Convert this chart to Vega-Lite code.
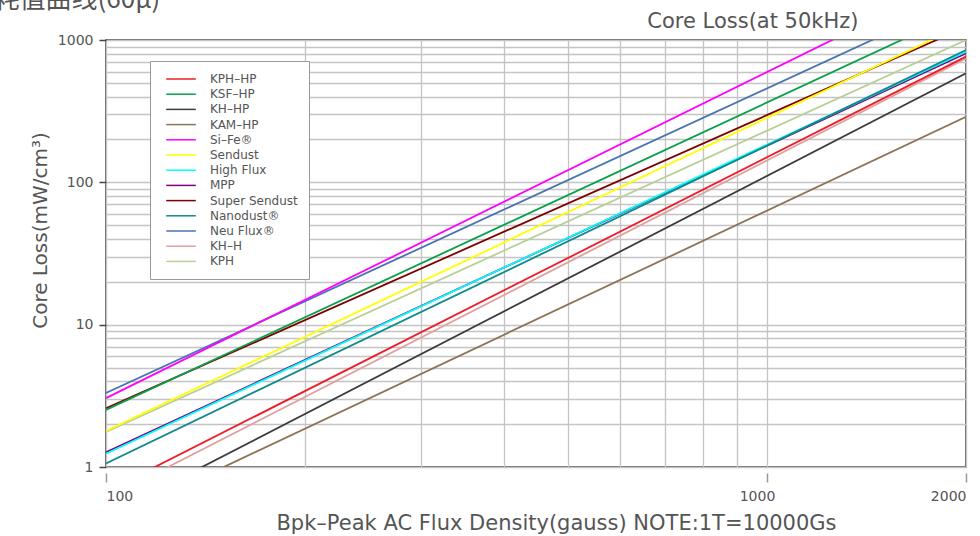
{
  "$schema": "https://vega.github.io/schema/vega-lite/v6.json",
  "width": 860,
  "height": 427,
  "autosize": {"type": "none"},
  "padding": {"left": 106, "top": 40, "right": 14, "bottom": 69},
  "background": "white",
  "config": {
    "font": "DejaVu Sans",
    "view": {"stroke": "#3a3a3a", "strokeWidth": 1.5},
    "axis": {"labelFont": "DejaVu Sans", "titleFont": "DejaVu Sans", "labelColor": "#555555", "titleColor": "#555555", "titleFontWeight": "normal"}
  },
  "data": {
    "values": [
      {"material": "KAM–HP", "flux": 100, "loss": 0.407},
      {"material": "KAM–HP", "flux": 2000, "loss": 289},
      {"material": "KH–HP", "flux": 100, "loss": 0.449},
      {"material": "KH–HP", "flux": 2000, "loss": 583},
      {"material": "KH–H", "flux": 100, "loss": 0.598},
      {"material": "KH–H", "flux": 2000, "loss": 740},
      {"material": "KPH–HP", "flux": 100, "loss": 0.67},
      {"material": "KPH–HP", "flux": 2000, "loss": 764},
      {"material": "MPP", "flux": 100, "loss": 1.27},
      {"material": "MPP", "flux": 2000, "loss": 806},
      {"material": "High Flux", "flux": 100, "loss": 1.24},
      {"material": "High Flux", "flux": 2000, "loss": 828},
      {"material": "Nanodust®", "flux": 100, "loss": 1.06},
      {"material": "Nanodust®", "flux": 2000, "loss": 851},
      {"material": "KPH", "flux": 100, "loss": 1.76},
      {"material": "KPH", "flux": 2000, "loss": 1000},
      {"material": "Super Sendust", "flux": 100, "loss": 2.585},
      {"material": "Super Sendust", "flux": 2000, "loss": 1237},
      {"material": "Sendust", "flux": 100, "loss": 1.79},
      {"material": "Sendust", "flux": 2000, "loss": 1303},
      {"material": "KSF–HP", "flux": 100, "loss": 2.52},
      {"material": "KSF–HP", "flux": 2000, "loss": 1625},
      {"material": "Neu Flux®", "flux": 100, "loss": 3.31},
      {"material": "Neu Flux®", "flux": 2000, "loss": 2014},
      {"material": "Si–Fe®", "flux": 100, "loss": 3.05},
      {"material": "Si–Fe®", "flux": 2000, "loss": 2911}
    ]
  },
  "layer": [
    {
      "mark": {"type": "line", "clip": true, "strokeWidth": 1.8},
      "encoding": {
        "x": {
          "field": "flux", "type": "quantitative",
          "scale": {"type": "log", "domain": [100, 2000], "nice": false},
          "axis": {
            "values": [100, 200, 300, 400, 500, 600, 700, 800, 900, 1000, 2000],
            "format": "d",
            "labelExpr": "datum.value == 100 || datum.value == 1000 || datum.value == 2000 ? datum.label : ''",
            "offset": 6,
            "domain": false,
            "tickSize": 9,
            "tickColor": "#9a9a9a",
            "tickWidth": 1.5,
            "tickOpacity": {"condition": {"test": "datum.value == 100 || datum.value == 1000 || datum.value == 2000", "value": 1}, "value": 0},
            "grid": true,
            "gridColor": "#c4c4c4",
            "gridWidth": 1.3,
            "labelFontSize": 14,
            "labelPadding": 7,
            "labelFlush": true,
            "labelOffset": {"condition": {"test": "datum.value == 1000", "value": -10}, "value": 0},
            "title": "Bpk–Peak AC Flux Density(gauss) NOTE:1T=10000Gs",
            "titleFontSize": 21,
            "titleX": 450,
            "titleY": 56,
            "titleAlign": "center",
            "titleBaseline": "alphabetic"
          }
        },
        "y": {
          "field": "loss", "type": "quantitative",
          "scale": {"type": "log", "domain": [1, 1000], "nice": false},
          "axis": {
            "values": [1, 2, 3, 4, 5, 6, 7, 8, 9, 10, 20, 30, 40, 50, 60, 70, 80, 90, 100, 200, 300, 400, 500, 600, 700, 800, 900, 1000],
            "format": "d",
            "labelExpr": "indexof([1, 10, 100, 1000], datum.value) >= 0 ? datum.label : ''",
            "domain": false,
            "tickSize": 7,
            "tickColor": "#444444",
            "tickWidth": 1.5,
            "tickOpacity": {"condition": {"test": "indexof([1, 10, 100, 1000], datum.value) >= 0", "value": 1}, "value": 0},
            "grid": true,
            "gridColor": "#c4c4c4",
            "gridWidth": 1.3,
            "labelFontSize": 14,
            "labelPadding": 6,
            "labelBaseline": "middle",
            "title": "Core Loss(mW/cm³)",
            "titleFontSize": 20,
            "titleAngle": -90,
            "titleX": -60,
            "titleY": 190,
            "titleAlign": "center",
            "titleBaseline": "alphabetic"
          }
        },
        "color": {
          "field": "material", "type": "nominal",
          "scale": {
            "domain": ["KPH–HP", "KSF–HP", "KH–HP", "KAM–HP", "Si–Fe®", "Sendust", "High Flux", "MPP", "Super Sendust", "Nanodust®", "Neu Flux®", "KH–H", "KPH"],
            "range": ["#ee1c25", "#08a04b", "#3c3c3c", "#8c7358", "#ff00ff", "#ffff00", "#00ffff", "#800080", "#800000", "#0f8a8a", "#4a74b0", "#e0a0a0", "#b8d098"]
          },
          "legend": {
            "orient": "none",
            "legendX": 44,
            "legendY": 21,
            "title": null,
            "symbolType": "M-0.3,0H4.7",
            "symbolSize": 140,
            "symbolStrokeWidth": 1.5,
            "labelFont": "DejaVu Sans",
            "labelFontSize": 12,
            "labelColor": "#555555",
            "labelOffset": 35,
            "labelLimit": 300,
            "strokeColor": "#999999",
            "fillColor": "white",
            "padding": 11,
            "rowPadding": 2.2
          }
        }
      }
    },
    {
      "mark": {"type": "line", "opacity": 0, "clip": true},
      "encoding": {
        "x": {
          "field": "flux", "type": "quantitative",
          "axis": {
            "orient": "top", "labels": false, "ticks": false, "domain": false, "grid": false,
            "title": "Core Loss(at 50kHz)",
            "titleFontSize": 21,
            "titleX": 752,
            "titleY": -13,
            "titleAlign": "right",
            "titleBaseline": "alphabetic"
          }
        },
        "y": {
          "field": "loss", "type": "quantitative",
          "axis": {
            "orient": "right", "labels": false, "ticks": false, "domain": false, "grid": false,
            "title": "损耗值曲线(60μ)",
            "titleFont": "Noto Sans CJK SC",
            "titleFontSize": 26,
            "titleAngle": 0,
            "titleX": -999,
            "titleY": -33,
            "titleAlign": "left",
            "titleBaseline": "alphabetic"
          }
        },
        "detail": {"field": "material"}
      }
    }
  ],
  "resolve": {"axis": {"x": "independent", "y": "independent"}}
}
